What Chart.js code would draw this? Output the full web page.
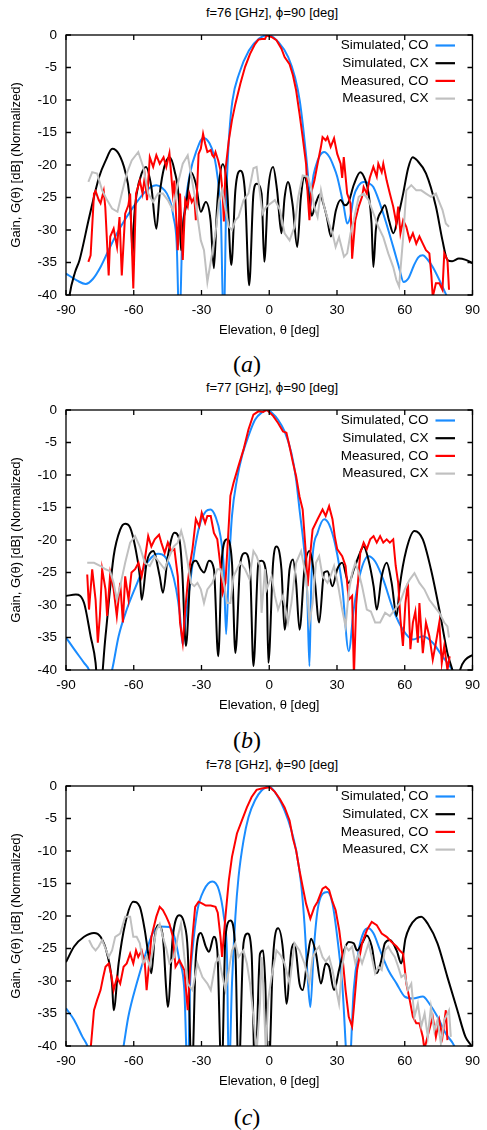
<!DOCTYPE html>
<html><head><meta charset="utf-8">
<script src="https://cdn.jsdelivr.net/npm/chart.js@4/dist/chart.umd.min.js"></script>
<style>
body{margin:0;background:#fff;width:487px;height:1130px;overflow:hidden;position:relative;font-family:"Liberation Sans",Arial,sans-serif;color:#000}
.panel{position:absolute;left:0;width:487px;height:345px}
.title{position:absolute;left:66px;width:412px;text-align:center;font-size:13px;line-height:14px;white-space:nowrap}
.title .g{font-family:"DejaVu Sans",sans-serif;font-size:12px}
.cap{position:absolute;left:0;width:494px;text-align:center;font-family:"Liberation Serif","DejaVu Serif",serif;font-size:24px;line-height:26px}
.cap i{font-style:italic}
</style></head>
<body>
<div class="title" style="top:6px">f=76 [GHz], <span class="g">ϕ</span>=90 [deg]</div>
<div class="panel" style="top:0px"><canvas id="c76" width="487" height="345"></canvas></div>
<div class="cap" style="top:351px">(<i>a</i>)</div>

<div class="title" style="top:381px">f=77 [GHz], <span class="g">ϕ</span>=90 [deg]</div>
<div class="panel" style="top:375px"><canvas id="c77" width="487" height="345"></canvas></div>
<div class="cap" style="top:727px">(<i>b</i>)</div>

<div class="title" style="top:758px">f=78 [GHz], <span class="g">ϕ</span>=90 [deg]</div>
<div class="panel" style="top:751px"><canvas id="c78" width="487" height="345"></canvas></div>
<div class="cap" style="top:1104px">(<i>c</i>)</div>

<script>
// ---- tick labels / categories ----
const xTicks = [-90,-60,-30,0,30,60,90];
const yTicks = [0,-5,-10,-15,-20,-25,-30,-35,-40];
const seriesNames = ['Simulated, CO','Simulated, CX','Measured, CO','Measured, CX'];

// ---- f = 76 GHz : [theta(deg), gain(dB)] ----
const simCO_76 = [[-90,-36.7],[-85,-37.8],[-81.3,-38.3],[-78,-37.5],[-74.7,-35.7],[-71,-33],[-67.4,-30.5],[-63.5,-28.2],[-60.1,-26.4],[-55.7,-24.4],[-52.5,-23.4],[-50,-23.1],[-47.5,-23.5],[-45.3,-24.4],[-43.5,-26],[-42.4,-28],[-41,-32],[-39.8,-45],[-38.5,-31],[-37.3,-26.4],[-35.1,-21.3],[-32.2,-17.8],[-29.3,-15.8],[-26.4,-16.7],[-24.5,-18.5],[-23.5,-20.3],[-22.2,-24],[-21.4,-28],[-20.2,-45],[-19,-25],[-18.5,-20.3],[-17.7,-15.2],[-16.3,-10.1],[-13.4,-6.0],[-9,-2.4],[-4.6,-0.6],[-0.3,0],[4.1,-1.1],[8.4,-3.4],[11.4,-6.5],[13.5,-10.1],[15,-14.2],[16.4,-18.8],[17.4,-22.5],[18.3,-26.5],[19.2,-22.5],[20.5,-20.3],[22.5,-18.5],[24.3,-18.0],[26.5,-18.7],[28.5,-20.2],[30.1,-21.8],[33,-26.4],[34.5,-29.0],[36,-27.8],[37.4,-24.9],[39.5,-23.2],[41.8,-22.6],[44,-22.8],[46.1,-23.4],[50.5,-27.5],[54.9,-32.6],[57.5,-35.8],[59.5,-38.0],[61.5,-37.5],[64,-35.5],[66,-34.2],[68,-33.9],[70,-34.5],[72.4,-35.7],[76.7,-38.7],[79,-40.5],[82,-43]];
const simCX_76 = [[-90,-45],[-88.4,-40],[-86,-36.5],[-84,-34.6],[-79.7,-28],[-75.3,-21.8],[-72.4,-19.3],[-69.5,-17.5],[-66.6,-18.3],[-63.7,-21.1],[-62,-24.5],[-61,-30],[-60.5,-34],[-59.8,-28],[-58.7,-24.4],[-56.5,-21.3],[-54.6,-20.3],[-52.2,-23.4],[-50,-29.8],[-48.5,-24.4],[-46.5,-20.3],[-44.2,-18.8],[-42,-20.8],[-39.8,-26.4],[-39.1,-33.1],[-38,-28.5],[-36.9,-26.4],[-34.7,-21.1],[-32.5,-22.9],[-30.3,-27.2],[-28.1,-25.7],[-26,-28.5],[-24.5,-35.9],[-23.2,-27],[-22.3,-22.9],[-20.6,-19.9],[-18.7,-23.4],[-16.8,-35.4],[-15,-23.9],[-12.8,-20.9],[-10.7,-24.4],[-8.9,-38.5],[-7,-24.4],[-5.6,-22.9],[-3.4,-24.4],[-2.2,-34.9],[-0.5,-24],[1.7,-20.3],[3.5,-24],[5.4,-30.5],[6.8,-25],[8.3,-22.6],[10.3,-26],[12.4,-32.6],[14,-25],[15.6,-21.8],[17.2,-24],[18.8,-27.8],[20.5,-26],[22.5,-24.5],[24,-26],[25.5,-28],[27.3,-31],[29.5,-27],[31.6,-25.4],[33.5,-26.2],[35,-25.8],[37.5,-23],[40.3,-21.1],[42.5,-22.3],[44,-24.4],[45.3,-29],[46.1,-35.7],[47.2,-30],[49.8,-27],[51.2,-26.2],[53,-28.5],[55,-30.5],[57,-28],[59.3,-24.4],[61.5,-20.5],[63.5,-18.8],[65.5,-19.3],[69.4,-21.3],[73.8,-26.4],[76.7,-31.6],[78.9,-34.6],[81,-34.8],[84,-34.4],[87,-34.6],[90,-35.1]];
const measCO_76 = [[-80.1,-34.9],[-79.1,-33.9],[-77.6,-24.4],[-76.9,-24],[-75.5,-25.4],[-74.7,-25.9],[-73.3,-24],[-72.6,-26.5],[-71.1,-37],[-70.4,-31],[-68.9,-29.8],[-67.4,-32.6],[-66.3,-28],[-65.3,-37],[-63.8,-27.5],[-62.4,-26.2],[-61.6,-24.4],[-60.2,-39],[-59,-24.4],[-57.3,-22.4],[-56.1,-24.4],[-55.1,-21.8],[-54.1,-25.4],[-52.9,-18.8],[-51.4,-20.3],[-50,-18.5],[-48.5,-19.8],[-46.8,-18.8],[-45.6,-20.3],[-44.2,-18.2],[-42.7,-24.4],[-42,-22.4],[-40.5,-33.1],[-39.5,-24.4],[-38.3,-34.6],[-37.2,-25.4],[-36.1,-26.4],[-35.4,-24.4],[-34.3,-25.7],[-33.2,-25],[-32.5,-28.5],[-31.3,-18.3],[-30.3,-17.5],[-29.3,-15.2],[-28.4,-16.7],[-27.4,-18],[-25.9,-17.7],[-25.2,-18.5],[-24.5,-18.8],[-23.8,-18],[-22.6,-19.3],[-21.6,-20.8],[-20.7,-24],[-20.1,-28.7],[-19.4,-20.8],[-17.9,-16.2],[-16.5,-13.1],[-15,-10.6],[-12.8,-7.5],[-10.7,-4.9],[-8.5,-2.9],[-6.3,-1.4],[-4.8,-0.7],[-3.4,-0.6],[-1.9,-0.6],[-1.2,-0.1],[1,-0.3],[3.2,-0.8],[5.4,-2.1],[6.8,-3.4],[9,-4.5],[10.5,-6.2],[11.9,-8.5],[13.4,-12.1],[14.8,-15.7],[16.3,-19.8],[17,-24.4],[17.8,-28.5],[18.5,-24.4],[20,-22.4],[21.4,-19.8],[22.9,-17.2],[23.6,-15.7],[25,-16.2],[25.8,-15.7],[27.2,-17.2],[28.7,-15.9],[30.1,-18.3],[31.6,-19.8],[32.3,-22],[33,-18.8],[34.5,-24.4],[36,-25.9],[36.7,-34.4],[38.1,-28.5],[39.6,-26.4],[41.1,-24.9],[41.8,-23.4],[43.2,-24.4],[44.5,-22],[46.1,-20.3],[47.6,-21.8],[48.3,-19.8],[49.8,-21.1],[50.5,-19.8],[52,-22.4],[53.4,-24.4],[54.9,-26.4],[56.3,-29],[57.1,-26.4],[58.1,-30.5],[59.3,-28.5],[60.7,-29.5],[62.2,-31.6],[63.6,-30.5],[65.1,-32.1],[66.5,-31],[68,-32.1],[69.4,-33.1],[70.9,-33.6],[71.8,-37],[72.4,-40.3],[73.8,-38.2],[75.3,-38.2],[76.7,-39.2],[77.5,-33.6],[78.9,-34.6],[79.6,-39.2]];
const measCX_76 = [[-80.1,-22.6],[-78.4,-21.1],[-76.2,-21.3],[-74,-23.9],[-71.8,-25.4],[-69.6,-26.7],[-67.2,-27.2],[-65.3,-24.4],[-63.1,-21.3],[-60.9,-19.3],[-58,-18],[-55.8,-20.3],[-53.6,-24.4],[-51.4,-25.7],[-49.3,-24.4],[-47.1,-24.4],[-44.9,-25.4],[-42.7,-26.9],[-40.5,-22.9],[-38.3,-19.8],[-36.1,-18.5],[-34.7,-21.3],[-33.2,-24.4],[-31.8,-27.9],[-30.3,-31.6],[-28.9,-33.1],[-27.4,-38],[-25.5,-34],[-23.8,-30.5],[-22.3,-25.7],[-20.8,-23.9],[-19.3,-27],[-17.9,-29.5],[-16.5,-30],[-15,-28.5],[-13.6,-28],[-11.4,-25.4],[-9.2,-24.4],[-7,-20.5],[-5.6,-20.3],[-4.1,-24.4],[-3,-27.5],[-1.5,-26.5],[-0.4,-26.2],[2.5,-25.4],[4.7,-26.9],[6.8,-30.5],[9,-31.6],[11.2,-29.5],[12.8,-25],[14.8,-21.6],[17,-21.8],[18.5,-23.4],[19.9,-26.4],[21.4,-28],[22.9,-23.9],[24.3,-26.4],[26.5,-29],[28,-30.5],[29.4,-32.6],[30.9,-31.1],[33.1,-34.1],[34.5,-33.6],[36,-30.5],[37.4,-28.5],[39.6,-24.9],[41.8,-24.4],[44,-25.4],[46.2,-27.5],[48.3,-29.5],[50.5,-31.1],[52.7,-33.6],[54.9,-35.7],[56.3,-37.7],[57.5,-38.7],[59.3,-31.1],[60.7,-23.9],[62.9,-23.1],[65.1,-23.9],[67.3,-23.9],[69.4,-24.4],[71.6,-24.9],[73.8,-24.4],[75.3,-25.7],[76.7,-26.9],[78.2,-29],[79.6,-29.5]];

// ---- f = 77 GHz ----
const simCO_77 = [[-90,-35],[-86.4,-36.8],[-82,-38.9],[-79.8,-40],[-75,-46],[-69.6,-40],[-66.7,-34.8],[-63.1,-30.7],[-59.4,-27.4],[-55.8,-24.5],[-52.2,-22.7],[-49.2,-22.1],[-46.3,-22.5],[-43.4,-24.5],[-41.2,-27.6],[-39.5,-31.7],[-38.3,-36.1],[-36.9,-31.7],[-34.7,-25.6],[-32.5,-20.4],[-30.3,-17.1],[-28.1,-15.6],[-26,-15.3],[-23.8,-16.4],[-21.6,-19.4],[-20.1,-24.5],[-19.1,-34.5],[-17.9,-24.5],[-16.5,-16.3],[-14.3,-10.7],[-12.1,-7.1],[-9.2,-4],[-6.3,-1.5],[-3.4,-0.4],[-0.5,0],[1,-0.4],[3.9,-1.5],[6.8,-3.3],[9.8,-6.6],[11.9,-10.7],[13.4,-15.3],[15.6,-22],[16.8,-28],[17.8,-39.4],[18.5,-28],[19.2,-22.5],[21.4,-18.9],[24.3,-16.8],[26.5,-17.6],[29.4,-21],[32.3,-27.1],[35.2,-37.1],[37.4,-30.7],[40.3,-25.1],[43.9,-22.5],[46.9,-23.3],[50.5,-26.1],[54.9,-30.7],[59.2,-33.8],[63.6,-35.3],[68,-34.8],[72.4,-35.8],[76.7,-37.9],[81.1,-40],[84,-42]];
const simCX_77 = [[-90,-28.6],[-85.6,-28.4],[-82,-29.7],[-79.1,-34.8],[-76.9,-38.9],[-75.5,-45],[-72.5,-34.8],[-68.9,-22.5],[-66,-18.4],[-63.8,-17.5],[-61.6,-18.1],[-59.4,-21],[-57.3,-25.6],[-56.5,-29.2],[-54.3,-23.5],[-51.4,-21.7],[-48.5,-25.6],[-47.1,-28.1],[-44.9,-22.5],[-42,-18.9],[-39.8,-19.9],[-38.5,-25],[-36.9,-36.3],[-34.7,-24.5],[-32.5,-23.2],[-30.3,-24.5],[-28.9,-25],[-26.7,-23.2],[-24.5,-24.5],[-22.6,-37.9],[-20.9,-22.5],[-18.7,-19.9],[-16.5,-23.5],[-15,-37.4],[-12.8,-23.5],[-10.7,-22],[-8.5,-24.5],[-7,-39.4],[-4.8,-23.5],[-3.4,-23.2],[-1.2,-25.6],[-0.4,-38.9],[1.7,-23.5],[3.2,-21],[5.4,-24.5],[6.8,-33.8],[9,-24.5],[10.5,-23],[11.9,-26.6],[13.4,-33.8],[15.6,-24.5],[17.8,-21.7],[20,-25.6],[22.1,-32.7],[24.3,-25],[25.8,-24.8],[28,-27.1],[30.1,-24.5],[32.3,-23.5],[35.2,-26.6],[37.5,-24.5],[39.6,-22.5],[41.8,-21],[43.9,-23],[46.2,-27.1],[47.6,-30.7],[49.8,-25.6],[52,-23.5],[54.2,-26.6],[56.4,-31.7],[57.8,-27.1],[60.7,-21.5],[64.3,-18.6],[68,-19.9],[71.6,-24.5],[75.3,-30.7],[78.9,-37.4],[81.1,-40],[83,-43],[84.5,-40],[86.9,-38.4],[90,-37.7]];
const measCO_77 = [[-80.6,-25.3],[-79.8,-30.7],[-78.4,-24.5],[-76.9,-29.2],[-75.9,-35.8],[-75,-31.7],[-74,-24.5],[-72.5,-27.6],[-71.8,-31.7],[-70.4,-25.1],[-68.9,-27.6],[-67.5,-31.7],[-66,-26.6],[-64.8,-32.7],[-63.8,-25.6],[-62.3,-29.2],[-61,-25],[-59.4,-24.5],[-57.9,-23.5],[-56.5,-25.6],[-55.1,-23],[-53.6,-19.4],[-52.2,-21],[-50.7,-19.9],[-48.8,-19.2],[-47.8,-20.4],[-46.3,-22],[-44.9,-20.4],[-43.4,-21.7],[-42,-21.4],[-40.5,-25.6],[-39.5,-32.7],[-38.3,-35.8],[-37.2,-30.7],[-36.1,-26.6],[-35,-23.5],[-34,-21.4],[-32.5,-16.8],[-31,-17.9],[-29.9,-15.8],[-28.4,-17.4],[-27.4,-16.3],[-25.9,-16.3],[-24.5,-18.9],[-23,-19.9],[-21.6,-24],[-20.6,-28.1],[-19.4,-26.6],[-18.3,-20],[-17.2,-13.2],[-15.8,-11.2],[-13.6,-8.6],[-11.4,-6.1],[-9.2,-3],[-7,-0.7],[-4.8,-0.2],[-2.7,-0.3],[-1.2,0],[-0.4,-0.2],[1.7,-0.9],[3.9,-2],[6.1,-3.3],[7.6,-3.5],[9,-5.6],[10.5,-8.1],[11.9,-10.2],[13.4,-13.3],[14.8,-15.3],[16.3,-22.5],[17,-27.1],[18.2,-22],[19.2,-18.4],[21.4,-16.8],[23.6,-15.3],[25,-16.3],[26.5,-14.8],[28,-16.8],[29,-19.4],[30.1,-21.4],[32.3,-22.5],[33.8,-24],[35.2,-29.2],[36.7,-28.6],[37.5,-41],[38.5,-30],[40.3,-22],[41.8,-20.4],[43.2,-21.4],[44.7,-19.9],[46.2,-19.4],[47.6,-20.4],[49.1,-19.4],[50.5,-20.4],[52,-19.9],[53.4,-20.4],[54.9,-19.9],[56,-24],[57.1,-26.6],[58.1,-32.2],[59.2,-36.3],[60.3,-29.7],[61.4,-26.6],[62.5,-36.8],[63.6,-32.7],[64.7,-31],[65.8,-35.8],[66.5,-29.7],[68,-37.4],[69.4,-32.7],[70.9,-34.8],[72.4,-38.4],[73.8,-35.8],[75.3,-32.7],[76.4,-38.9],[77.5,-36.3],[78.9,-40],[79.9,-37.9]];
const measCX_77 = [[-80.6,-23.5],[-77.6,-23.5],[-74.7,-24],[-72.5,-24.5],[-70.5,-24.8],[-68.9,-26.6],[-67.5,-29.2],[-66,-27.1],[-63.8,-23.5],[-61.6,-20.4],[-59.4,-19.4],[-57.3,-21],[-55.1,-23.5],[-52.9,-24],[-50.7,-22.5],[-48.5,-23.5],[-46.3,-24.5],[-44.2,-22.5],[-42.3,-21],[-40.5,-20.4],[-39,-18.6],[-37.6,-20.4],[-36.1,-23.5],[-34.7,-26.6],[-33.2,-27.1],[-31.8,-26.6],[-30.3,-27.6],[-28.9,-29.7],[-27.4,-27.6],[-25.2,-26.6],[-23,-24.5],[-21.6,-24.5],[-20.1,-26.6],[-18.7,-29.7],[-17.2,-29.7],[-15.8,-25.6],[-14.3,-24.5],[-12.8,-23.5],[-10.7,-24.5],[-8.8,-26],[-7,-21.7],[-5.6,-22.5],[-4.1,-24],[-3.4,-31.2],[-1.9,-24.5],[-1.2,-27.6],[1,-25.6],[2.5,-28.6],[3.9,-30.7],[6.1,-28.6],[8.3,-32.7],[9.8,-29.7],[11.9,-23.5],[14.1,-21.7],[16.3,-25.6],[17.8,-32.7],[19.2,-29.7],[20.7,-23.5],[22.1,-22.5],[23.6,-25.6],[25.8,-26.6],[27.2,-25.5],[28.7,-24],[30.5,-27],[32.3,-30.7],[33.8,-33.3],[35.2,-28],[36.7,-25.1],[38.1,-23.5],[39.6,-25],[41.1,-27.1],[43.2,-30.7],[45,-31],[46.9,-32.7],[49.1,-32.7],[51.3,-31.2],[53.4,-31.7],[55.6,-30.7],[57.8,-29.7],[60,-27.6],[62.2,-26.1],[64.3,-25.1],[66.5,-26.6],[68.7,-27.6],[70.9,-29.2],[73.1,-30.2],[75.3,-31.2],[77.5,-32.7],[78.9,-33.3],[79.6,-35]];

// ---- f = 78 GHz ----
const simCO_78 = [[-90,-34.2],[-86.4,-36],[-82.7,-38.6],[-80.5,-40],[-76,-45],[-70,-46],[-65.5,-42],[-64.5,-40],[-62.4,-35.5],[-58.7,-30.4],[-54.3,-25.3],[-51.4,-22.5],[-48.5,-21.6],[-44.2,-21.7],[-42,-23.2],[-39.8,-26.8],[-37.6,-31.4],[-36.1,-45],[-35,-30],[-34,-25.3],[-31.8,-19.1],[-28.9,-16],[-25.2,-14.7],[-22.3,-16],[-20.1,-20.1],[-18.7,-26.3],[-17.9,-45],[-16.5,-30.4],[-15,-20.1],[-13.6,-14],[-11.4,-8.4],[-9.2,-4.8],[-6.3,-2.2],[-3.4,-0.7],[-0.5,-0.1],[1,-0.3],[3.9,-1.7],[6.8,-3.8],[9.8,-6.8],[11.9,-9.9],[14.1,-15],[15.6,-21.2],[17,-29.4],[18.2,-34],[19.7,-25.3],[21.4,-19.1],[23.6,-16.6],[25.8,-16.3],[28,-18.1],[30.1,-23.2],[32.3,-30.4],[35.2,-45],[37.4,-31.4],[39.6,-25.3],[41.8,-22.5],[43.9,-21.9],[46.2,-22.7],[49.1,-25.3],[52.7,-28.3],[56.4,-30.4],[60,-32.4],[63.6,-32.7],[68,-32.4],[70.9,-33.5],[74.5,-35.5],[78.2,-38.1],[81.8,-39.9],[84,-42]];
const simCX_78 = [[-90,-27.1],[-86.4,-24.7],[-82,-23.2],[-77.6,-22.6],[-74.7,-23.2],[-71.8,-25.8],[-69.6,-30.4],[-68.9,-34.5],[-66.7,-27.3],[-63.8,-21.2],[-60.2,-17.8],[-57.3,-18.6],[-55.1,-22.2],[-53.6,-25.8],[-52.2,-28.8],[-50.7,-23.2],[-49.2,-21.4],[-47.1,-23.2],[-45.6,-31.4],[-44.9,-34],[-42.7,-23.2],[-39.8,-19.9],[-37.6,-21.2],[-36.1,-25.3],[-34.3,-45],[-32.5,-26.3],[-30.3,-22.6],[-28.1,-24.7],[-26.7,-25.5],[-24.5,-23.2],[-23,-25.3],[-21.1,-45],[-19.4,-23.2],[-17.2,-20.7],[-15,-25.3],[-13.6,-45],[-11.4,-24.2],[-9.6,-22.7],[-7.8,-25.8],[-6.3,-45],[-4.1,-25.8],[-2.7,-25.3],[-1.8,-30],[-0.4,-45],[1.7,-26.3],[3.9,-21.9],[6.1,-25.3],[7.6,-33.5],[9.8,-25.3],[11.2,-24.2],[13.4,-30.4],[14.8,-31.4],[17,-26.3],[18.5,-23.5],[20.7,-25.8],[22.9,-30.4],[25,-27.3],[26.5,-27.8],[28.7,-31.4],[30.9,-28.3],[33.1,-25.3],[35.2,-24],[37.4,-24.2],[38.9,-25.3],[41.1,-24.2],[43.2,-23],[45.4,-24.7],[47.6,-28.8],[49.5,-27],[51.2,-24.2],[53.4,-23.7],[56.4,-25.3],[58.5,-27.3],[60.3,-23.5],[62.2,-21.7],[65.1,-20.4],[67.3,-20.1],[70.2,-21.2],[74.5,-24.2],[78.9,-29.4],[83.3,-34.5],[86.9,-38.6],[89.6,-40],[91,-41]];
const measCO_78 = [[-79.1,-40.5],[-77.6,-34.5],[-76.2,-32.9],[-74.7,-31.4],[-73.6,-29.5],[-72.5,-27.8],[-71.1,-27.3],[-70,-29],[-68.9,-31.4],[-67.4,-29.4],[-66,-30.4],[-64.5,-27.8],[-63.1,-27.3],[-61.6,-25.8],[-60.2,-27.3],[-59,-25.3],[-58,-26.3],[-56.5,-25.3],[-55.1,-27.3],[-54.3,-31.4],[-53.2,-27.3],[-52.2,-23.2],[-50,-20.1],[-48.5,-18.6],[-47.1,-19.1],[-45.6,-20.1],[-44.2,-21.2],[-42.7,-23.2],[-41.5,-27.8],[-39.8,-26.8],[-37.6,-28.3],[-36.1,-34.5],[-35,-28],[-34,-23.2],[-32.8,-18.6],[-31.3,-17.8],[-29.6,-18.1],[-28.1,-18.4],[-25.9,-18.4],[-23.8,-18.6],[-22.8,-19.5],[-21.6,-23.2],[-20.9,-26.3],[-19.4,-20.1],[-17.9,-14.5],[-16.5,-10.9],[-14.3,-7.3],[-12.1,-5.3],[-9.9,-3.3],[-7.8,-1.7],[-5.6,-0.6],[-3.4,-0.4],[-1.9,-0.3],[0.3,-0.2],[2.5,-0.9],[4.7,-2],[6.8,-3.3],[9,-5.3],[10.5,-8.1],[11.9,-9.9],[13.4,-13],[14.8,-15.5],[16.3,-18.1],[18.2,-20.4],[20,-18.6],[21.4,-17.8],[23.6,-15.8],[25,-15.5],[26.5,-16],[28,-17.8],[29.4,-19.1],[31,-22.2],[32.3,-25.8],[33.8,-31.4],[35.2,-35.5],[36.7,-37],[37.5,-34],[38.9,-28.3],[41.1,-24.2],[43.2,-22.2],[45.4,-20.9],[47.6,-21.4],[49.8,-22.7],[52,-23.2],[54.2,-24],[56.4,-24.7],[57.8,-25.3],[59.3,-25.8],[60.7,-30.4],[62.2,-32.9],[63.6,-35.5],[65.1,-36.5],[66.5,-36.5],[68,-38.6],[68.7,-40.5],[70.5,-38],[72.4,-35.5],[73.8,-38.6],[75.3,-36],[76.7,-38.6],[78.2,-34.5],[78.9,-39.1]];
const measCX_78 = [[-79.8,-23.7],[-78.4,-24.7],[-76.9,-25.3],[-75.5,-24.7],[-74,-23.7],[-72.5,-25],[-71.1,-26.3],[-69.6,-25.3],[-68.2,-23.2],[-66,-22.7],[-63.8,-20.1],[-61.6,-20.1],[-60.2,-23.2],[-58.7,-23.2],[-57.3,-24.2],[-55.8,-27.3],[-54.3,-26.3],[-52.9,-27.8],[-51.5,-25],[-50,-22.2],[-48.5,-21.2],[-47.1,-23.2],[-45.6,-25],[-44.2,-27.3],[-42,-26.3],[-40.5,-23.2],[-39.1,-21.2],[-37.6,-26.3],[-36.1,-30.4],[-34,-31.4],[-31.8,-27.3],[-29.6,-29.4],[-27.4,-30.4],[-25.9,-31.4],[-23.8,-27.3],[-22.3,-26.3],[-20.9,-29],[-19.4,-31.4],[-17.9,-28.3],[-16.5,-25.3],[-15,-24.2],[-13.6,-26.3],[-11.4,-25.3],[-9.9,-27.3],[-8.5,-30.4],[-7,-35.5],[-5.6,-41],[-4.1,-33.5],[-3.4,-26.3],[-2.7,-30.4],[-1.5,-41],[-0.5,-33],[1,-29.4],[3.2,-25.3],[5,-26],[6.8,-27.3],[9,-30.4],[11.2,-24.2],[13.4,-25.3],[15.6,-27.3],[17.8,-30.4],[19.2,-26.3],[20.7,-25.3],[22.1,-24.7],[23.6,-26.3],[25,-27],[26.5,-26.3],[28,-28.3],[29.5,-31],[30.9,-33.5],[32.3,-27.8],[33.8,-24.7],[35.2,-25.3],[36.7,-24.7],[38.1,-27.3],[39.6,-25.8],[41.1,-27.3],[42.5,-25.8],[44,-24.2],[45.4,-26.3],[46.9,-28.8],[48.3,-27.8],[49.8,-28.3],[51.2,-25.3],[52.7,-24.7],[54,-25.5],[55.6,-26.3],[57.1,-27.8],[58.5,-29.4],[60,-29],[61.4,-31.4],[62.9,-30.4],[64.3,-35.5],[65.8,-33.5],[67.3,-37],[68.8,-35],[70.2,-38.6],[71.6,-34],[73.1,-37.6],[74.5,-36],[76,-39.6],[77.5,-36],[79.6,-34.5],[80.4,-38.6]];

// ---- rendering ----
const COLORS = ['#1a8cff','#000000','#ff0000','#c0c0c0'];
const FONT = '"Liberation Sans", Arial, sans-serif';
Chart.defaults.font.family = FONT;
Chart.defaults.color = '#000';

const toXY = arr => arr.map(p => ({x:p[0], y:p[1]}));

const gnuplotFrame = {
  id:'gnuplotFrame',
  afterDatasetsDraw(chart){
    const {ctx, chartArea:a, scales:{x,y}} = chart;
    ctx.save();
    ctx.strokeStyle = '#000'; ctx.lineWidth = 1.3;
    ctx.strokeRect(a.left, a.top, a.right-a.left, a.bottom-a.top);
    ctx.beginPath();
    xTicks.forEach(v => {
      const px = x.getPixelForValue(v);
      ctx.moveTo(px, a.bottom); ctx.lineTo(px, a.bottom-5);
      ctx.moveTo(px, a.top); ctx.lineTo(px, a.top+5);
    });
    yTicks.forEach(v => {
      const py = y.getPixelForValue(v);
      ctx.moveTo(a.left, py); ctx.lineTo(a.left+5, py);
      ctx.moveTo(a.right, py); ctx.lineTo(a.right-5, py);
    });
    ctx.stroke();
    // key (legend), gnuplot style: right-aligned text then line sample
    ctx.font = '13.5px ' + FONT;
    ctx.textAlign = 'right'; ctx.textBaseline = 'middle';
    chart.data.datasets.forEach((ds, i) => {
      const yy = a.top + 10.5 + i*17.7;
      ctx.fillStyle = '#000';
      ctx.fillText(ds.label, a.right-44, yy);
      ctx.strokeStyle = ds.borderColor; ctx.lineWidth = 2.2;
      ctx.beginPath(); ctx.moveTo(a.right-37, yy); ctx.lineTo(a.right-17.5, yy); ctx.stroke();
    });
    ctx.restore();
  }
};

function makePanel(id, sCO, sCX, mCO, mCX){
  const sets = [sCO, sCX, mCO, mCX];
  new Chart(document.getElementById(id), {
    type:'line',
    data:{ datasets: sets.map((s,i) => ({
      label: seriesNames[i], data: toXY(s), borderColor: COLORS[i], backgroundColor: COLORS[i],
      borderWidth: 2, pointRadius: 0, fill:false,
      cubicInterpolationMode: i < 2 ? 'monotone' : 'default', tension: 0,
      order: 3 - i
    }))},
    options:{
      responsive:false, animation:false, devicePixelRatio:1,
      layout:{ padding:{ top:35, right:9, left:0, bottom:0 } },
      plugins:{ legend:{display:false}, tooltip:{enabled:false}, title:{display:false} },
      scales:{
        x:{ type:'linear', min:-90, max:90,
            afterBuildTicks: s => { s.ticks = xTicks.map(v => ({value:v})); },
            afterFit: s => { s.height = 50; },
            ticks:{ autoSkip:false, maxRotation:0, padding:7, font:{size:13.5}, color:'#000', callback: v => String(v) },
            grid:{ display:false, drawTicks:false }, border:{ display:false },
            title:{ display:true, text:'Elevation, θ [deg]', font:{size:13}, color:'#000', padding:{top:0, bottom:7} } },
        y:{ type:'linear', min:-40, max:0,
            afterBuildTicks: s => { s.ticks = yTicks.slice().reverse().map(v => ({value:v})); },
            afterFit: s => { s.width = 66; },
            ticks:{ padding:9, font:{size:13.5}, color:'#000', callback: v => String(v) },
            grid:{ display:false, drawTicks:false }, border:{ display:false },
            title:{ display:true, text:'Gain, G(θ) [dB] (Normalized)', font:{size:13}, color:'#000', padding:{top:9, bottom:0} } }
      }
    },
    plugins:[gnuplotFrame]
  });
}

makePanel('c76', simCO_76, simCX_76, measCO_76, measCX_76);
makePanel('c77', simCO_77, simCX_77, measCO_77, measCX_77);
makePanel('c78', simCO_78, simCX_78, measCO_78, measCX_78);
</script>
</body></html>
